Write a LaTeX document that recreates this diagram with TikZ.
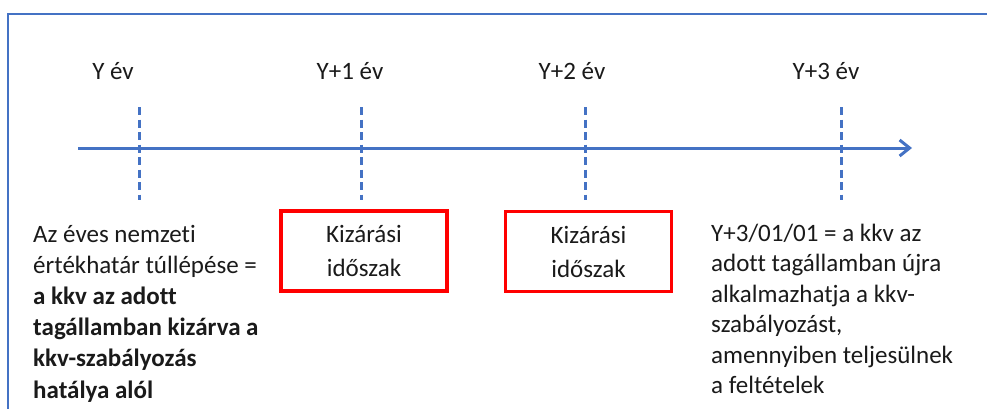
\documentclass[tikz,border=0pt]{standalone}
\usepackage{fontspec}
\setmainfont[Ligatures=NoCommon]{Carlito}
\usetikzlibrary{arrows.meta}
\definecolor{ablue}{HTML}{4472C4}
\definecolor{ared}{HTML}{FF0000}
\definecolor{txt}{HTML}{1A1A1A}
\begin{document}
\begin{tikzpicture}[x=1pt,y=-1pt,
  frameline/.style={draw=ablue,line width=2pt},
  axisline/.style={draw=ablue,line width=3pt,-{Straight Barb[length=10pt,width=16pt,line width=3pt]}},
  tickline/.style={draw=ablue,line width=3pt,dash pattern=on 8pt off 4.5pt},
  yearlabel/.style={text=txt,font=\fontsize{25}{30}\selectfont,anchor=base,inner sep=0pt},
  redbox/.style={draw=ared,line width=3.2pt,text=txt,minimum width=166pt,minimum height=80pt,align=center,font=\fontsize{25}{34}\selectfont,inner sep=0pt},
  bodytext/.style={text=txt,align=left,anchor=base west,inner sep=0pt}]
\useasboundingbox (0,0) rectangle (987,408);
% frame
\coordinate (fBL) at (8,410);
\coordinate (fTL) at (8,14);
\coordinate (fTR) at (989,14);
\draw[frameline] (fBL) -- (fTL) -- (fTR);
% axis
\coordinate (axL) at (78,148);
\coordinate (axR) at (912,148);
\draw[axisline] (axL) -- (axR);
% ticks
\foreach \n/\x in {0/139,1/361,2/585,3/841}{
  \coordinate (t\n top) at (\x,107);
  \coordinate (t\n bot) at (\x,200);
  \draw[tickline] (t\n top) -- (t\n bot);
}
% year labels
\node[yearlabel] (l0) at (113,79) {Y év};
\node[yearlabel] (l1) at (350,79) {Y+1 év};
\node[yearlabel] (l2) at (572,79) {Y+2 év};
\node[yearlabel] (l3) at (826,79) {Y+3 év};
% boxes
\node[redbox] (b1) at (364,251) {Kizárási\\időszak};
\node[redbox] (b2) at (588.5,251.5) {Kizárási\\időszak};
% texts (anchored at the baseline of the last line)
\node[bodytext,font=\fontsize{25}{31.2}\selectfont] (lt) at (33,398) {Az éves nemzeti\\értékhatár túllépése =\\\textbf{a kkv az adott}\\\textbf{tagállamban kizárva a}\\\textbf{kkv-szabályozás}\\\textbf{hatálya alól}};
\node[bodytext,font=\fontsize{25}{30.5}\selectfont] (rt) at (711,393.5) {Y+3/01/01 = a kkv az\\adott tagállamban újra\\alkalmazhatja a kkv-\\szabályozást,\\amennyiben teljesülnek\\a feltételek};
\end{tikzpicture}
\end{document}
